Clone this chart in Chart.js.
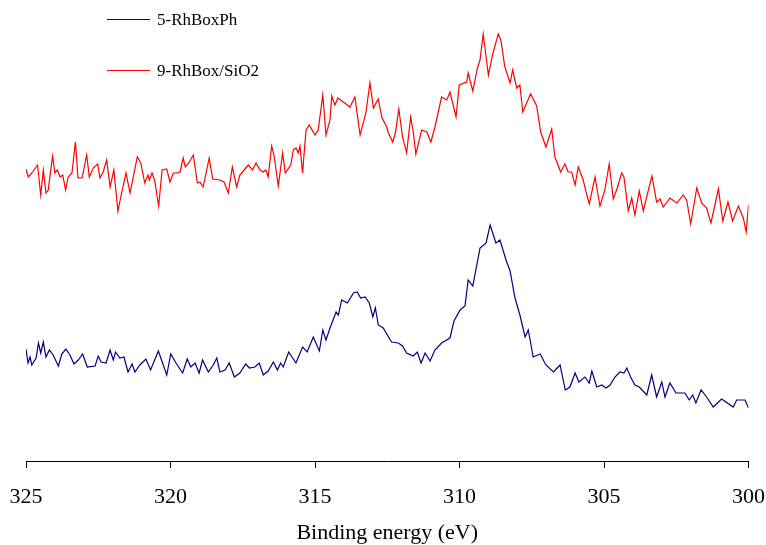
<!DOCTYPE html>
<html>
<head>
<meta charset="utf-8">
<title>Binding energy</title>
<script src="https://cdn.jsdelivr.net/npm/chart.js@4.4.1/dist/chart.umd.min.js"></script>
<style>
  html, body { margin: 0; padding: 0; background: #fff; }
  canvas { display: block; }
</style>
</head>
<body>
<canvas id="xps" width="766" height="545"></canvas>
<script>
// series labels
const seriesNames = ['5-RhBoxPh', '9-RhBox/SiO2'];
const xTicks = [325, 320, 315, 310, 305, 300];

// 5-RhBoxPh (navy), binding energy in eV / intensity (a.u.)
const energyPh = [
  325.0, 324.93, 324.86, 324.80, 324.65, 324.57, 324.49, 324.40, 324.31, 324.19,
  324.06, 323.88, 323.76, 323.62, 323.48, 323.34, 323.19, 323.04, 322.88, 322.61,
  322.50, 322.40, 322.23, 322.09, 321.98, 321.90, 321.75, 321.61, 321.47, 321.33,
  321.23, 321.06, 320.85, 320.69, 320.42, 320.13, 319.99, 319.81, 319.58, 319.42,
  319.30, 319.15, 319.01, 318.89, 318.69, 318.52, 318.40, 318.29, 318.11, 317.97,
  317.79, 317.60, 317.40, 317.27, 317.08, 316.93, 316.79, 316.62, 316.44, 316.30,
  316.19, 316.10, 315.91, 315.66, 315.43, 315.27, 315.06, 314.85, 314.73, 314.62,
  314.48, 314.27, 314.19, 314.08, 313.88, 313.67, 313.54, 313.42, 313.27, 313.12,
  313.00, 312.91, 312.81, 312.64, 312.35, 312.12, 311.97, 311.83, 311.60, 311.46,
  311.33, 311.19, 311.02, 310.85, 310.62, 310.33, 310.19, 309.98, 309.81, 309.70,
  309.54, 309.29, 309.08, 308.94, 308.85, 308.74, 308.60, 308.39, 308.25, 308.08,
  307.91, 307.73, 307.62, 307.45, 307.21, 307.01, 306.75, 306.62, 306.52, 306.34,
  306.18, 306.00, 305.87, 305.66, 305.51, 305.42, 305.25, 305.08, 304.93, 304.79,
  304.62, 304.45, 304.31, 304.21, 304.08, 303.93, 303.78, 303.52, 303.35, 303.18,
  303.00, 302.89, 302.72, 302.51, 302.20, 302.05, 301.93, 301.82, 301.64, 301.45,
  301.22, 300.93, 300.53, 300.41, 300.12, 300.0
];
const countsPh = [
  112, 98, 104, 96, 103, 118, 108, 119, 104, 111,
  106, 95, 107, 112, 106, 97, 101, 107, 94, 95,
  105, 99, 98, 111, 101, 109, 103, 104, 89, 97,
  89, 96, 102, 91, 110, 86, 107, 98, 88, 102,
  94, 98, 88, 101, 89, 96, 103, 89, 91, 98,
  84, 88, 97, 93, 94, 98, 86, 90, 99, 91,
  98, 94, 109, 98, 114, 109, 124, 110, 131, 121,
  133, 149, 146, 161, 158, 168, 169, 163, 164, 158,
  144, 153, 136, 133, 119, 118, 115, 108, 105, 109,
  98, 108, 100, 111, 118, 123, 140, 151, 155, 181,
  175, 213, 218, 236, 228, 218, 221, 201, 190, 163,
  146, 124, 131, 104, 107, 96, 89, 93, 96, 71,
  74, 88, 79, 84, 78, 90, 74, 76, 73, 76,
  84, 89, 88, 93, 84, 76, 74, 66, 86, 64,
  79, 64, 78, 68, 68, 61, 66, 58, 71, 64,
  54, 62, 54, 61, 61, 53
];

// 9-RhBox/SiO2 (red)
const energySi = [
  325.0, 324.92, 324.80, 324.60, 324.49, 324.40, 324.31, 324.23, 324.08, 324.00,
  323.92, 323.82, 323.73, 323.63, 323.54, 323.41, 323.29, 323.20, 323.06, 322.90,
  322.81, 322.67, 322.52, 322.44, 322.33, 322.21, 322.09, 321.96, 321.82, 321.72,
  321.54, 321.40, 321.15, 321.03, 320.89, 320.78, 320.73, 320.64, 320.55, 320.41,
  320.29, 320.13, 320.02, 319.90, 319.79, 319.67, 319.56, 319.49, 319.37, 319.21,
  319.07, 318.98, 318.87, 318.66, 318.54, 318.29, 318.15, 318.00, 317.86, 317.71,
  317.60, 317.48, 317.31, 317.16, 317.04, 316.90, 316.79, 316.70, 316.62, 316.50,
  316.42, 316.27, 316.12, 316.03, 315.84, 315.75, 315.66, 315.58, 315.52, 315.43,
  315.31, 315.20, 315.00, 314.89, 314.73, 314.62, 314.48, 314.42, 314.31, 314.21,
  314.02, 313.79, 313.62, 313.44, 313.24, 313.10, 312.98, 312.81, 312.69, 312.52,
  312.46, 312.31, 312.22, 312.10, 311.97, 311.83, 311.69, 311.60, 311.51, 311.31,
  311.13, 310.99, 310.85, 310.62, 310.44, 310.33, 310.12, 310.01, 309.75, 309.70,
  309.54, 309.38, 309.29, 309.18, 309.00, 308.85, 308.66, 308.57, 308.43, 308.25,
  308.16, 308.02, 307.91, 307.81, 307.54, 307.33, 307.19, 307.01, 306.81, 306.70,
  306.50, 306.35, 306.24, 306.12, 306.00, 305.89, 305.72, 305.62, 305.51, 305.31,
  305.14, 304.97, 304.82, 304.68, 304.54, 304.39, 304.31, 304.16, 304.04, 303.93,
  303.78, 303.64, 303.49, 303.34, 303.18, 303.06, 302.95, 302.72, 302.48, 302.26,
  302.14, 302.00, 301.79, 301.62, 301.45, 301.30, 301.04, 300.89, 300.71, 300.55,
  300.35, 300.18, 300.08, 300.0
];
const countsSi = [
  292, 284, 288, 296, 266, 291, 268, 271, 305, 288,
  291, 284, 286, 271, 284, 288, 319, 283, 283, 306,
  284, 293, 297, 283, 289, 301, 274, 291, 250, 264,
  288, 268, 304, 298, 278, 286, 281, 288, 281, 255,
  291, 292, 279, 288, 288, 289, 303, 294, 298, 306,
  278, 279, 274, 303, 282, 281, 279, 268, 294, 274,
  286, 290, 296, 291, 298, 291, 289, 291, 284, 315,
  306, 275, 308, 288, 296, 311, 313, 308, 315, 288,
  331, 336, 326, 331, 366, 326, 341, 365, 356, 363,
  359, 354, 364, 326, 348, 378, 353, 362, 344, 334,
  328, 319, 328, 352, 324, 308, 344, 329, 307, 331,
  329, 319, 334, 364, 361, 369, 344, 376, 379, 388,
  370, 393, 401, 427, 386, 407, 427, 421, 394, 378,
  391, 373, 376, 349, 367, 355, 329, 314, 332, 304,
  289, 297, 289, 289, 276, 294, 281, 269, 257, 284,
  255, 271, 297, 262, 273, 288, 284, 250, 263, 246,
  270, 250, 268, 285, 259, 262, 254, 263, 258, 266,
  261, 237, 273, 258, 253, 238, 272, 240, 259, 240,
  255, 243, 229, 256
];

function toPoints(xs, ys) {
  return xs.map((x, i) => ({ x: x, y: ys[i] }));
}

const serif = '"Liberation Serif", "Times New Roman", serif';

// legend drawn by hand: stacked entries with a short line sample
const legendPlugin = {
  id: 'stackedLegend',
  afterDraw(chart) {
    const ctx = chart.ctx;
    const rows = [19.5, 70.5];
    ctx.save();
    chart.data.datasets.forEach((ds, i) => {
      ctx.strokeStyle = ds.borderColor;
      ctx.lineWidth = 1.2;
      ctx.beginPath();
      ctx.moveTo(107, rows[i]);
      ctx.lineTo(150, rows[i]);
      ctx.stroke();
      ctx.fillStyle = '#000';
      ctx.font = '17px ' + serif;
      ctx.textBaseline = 'middle';
      ctx.fillText(ds.label, 157, rows[i] + 1);
    });
    ctx.restore();
  }
};

new Chart(document.getElementById('xps'), {
  type: 'line',
  data: {
    datasets: [
      {
        label: seriesNames[0],
        data: toPoints(energyPh, countsPh),
        borderColor: '#000080',
        borderWidth: 1.2,
        pointRadius: 0,
        tension: 0
      },
      {
        label: seriesNames[1],
        data: toPoints(energySi, countsSi),
        borderColor: '#ff0000',
        borderWidth: 1.2,
        pointRadius: 0,
        tension: 0
      }
    ]
  },
  options: {
    responsive: false,
    animation: false,
    layout: { padding: { top: 1, left: 26, right: 17.5, bottom: 0 } },
    plugins: {
      legend: { display: false },
      tooltip: { enabled: false }
    },
    scales: {
      x: {
        type: 'linear',
        reverse: true,
        min: 300,
        max: 325,
        afterBuildTicks(scale) {
          scale.ticks = xTicks.map(v => ({ value: v }));
        },
        afterFit(scale) {
          scale.height = 84;
          scale.paddingLeft = 0;
          scale.paddingRight = 0;
        },
        border: { display: true, color: '#000', width: 1 },
        grid: {
          drawOnChartArea: false,
          drawTicks: true,
          tickLength: 7,
          tickColor: '#000',
          tickWidth: 1
        },
        ticks: {
          color: '#000',
          padding: 16,
          maxRotation: 0,
          font: { family: serif, size: 22 }
        },
        title: {
          display: true,
          text: 'Binding energy (eV)',
          color: '#000',
          font: { family: serif, size: 22, lineHeight: 1 },
          padding: { top: 0, bottom: 1 }
        }
      },
      y: {
        display: false,
        min: 0,
        max: 460
      }
    }
  },
  plugins: [legendPlugin]
});
</script>
</body>
</html>
